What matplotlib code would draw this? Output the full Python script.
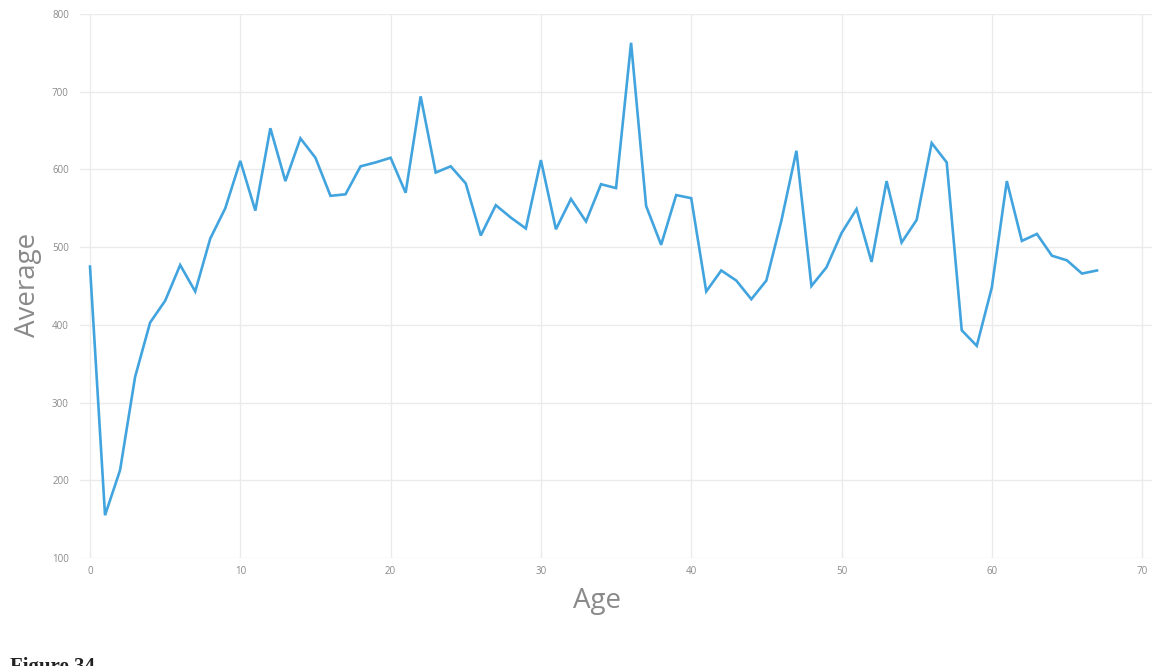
import matplotlib
matplotlib.use("Agg")
import matplotlib.pyplot as plt

ages = list(range(0, 68))
average = [475, 155, 213, 333, 403, 431, 477, 443, 511, 550,
           611, 547, 653, 585, 640, 615, 566, 568, 604, 609,
           615, 570, 694, 596, 604, 582, 515, 554, 538, 524,
           612, 523, 562, 533, 581, 576, 763, 553, 503, 567,
           563, 443, 470, 457, 433, 457, 534, 624, 450, 474,
           518, 549, 481, 585, 506, 535, 634, 609, 393, 373,
           448, 585, 508, 517, 489, 483, 466, 470]
x_ticks = [0, 10, 20, 30, 40, 50, 60, 70]
y_ticks = [100, 200, 300, 400, 500, 600, 700, 800]

W, H = 1156, 666
fig = plt.figure(figsize=(W / 100, H / 100), dpi=100)
fig.patch.set_facecolor("white")

ax = fig.add_axes([80 / W, 1 - 558 / H, (1152 - 80) / W, (558 - 14) / H])
ax.plot(ages, average, color="#42a4de", linewidth=1.9, solid_joinstyle="miter", zorder=3)

x0 = (80 - 90) / 15.03
x1 = (1152 - 90) / 15.03
ax.set_xlim(x0, x1)
ax.set_ylim(100, 800)
ax.set_xticks(x_ticks)
ax.set_yticks(y_ticks)
ax.grid(True, color="#ebebeb", linewidth=1.0)
ax.set_axisbelow(True)
for s in ax.spines.values():
    s.set_visible(False)
ax.tick_params(axis="both", length=0, labelsize=7, labelcolor="#8a8a8a")
ax.tick_params(axis="y", pad=8)
ax.tick_params(axis="x", pad=6)
for lbl in ax.get_xticklabels() + ax.get_yticklabels():
    lbl.set_family("Open Sans")

fig.text(28 / W, 1 - 285 / H, "Average", rotation=90, fontsize=20, color="#8a8a8a",
         ha="center", va="center", family="Open Sans")
fig.text(597 / W, 1 - 601 / H, "Age", fontsize=20, color="#8a8a8a",
         ha="center", va="center", family="Open Sans")
fig.text(10 / W, 1 - 657 / H, "Figure 34", fontsize=15, fontweight="bold",
         family="Liberation Serif", color="#222222", ha="left", va="top")

fig.savefig("out.png", dpi=100, facecolor="white")
